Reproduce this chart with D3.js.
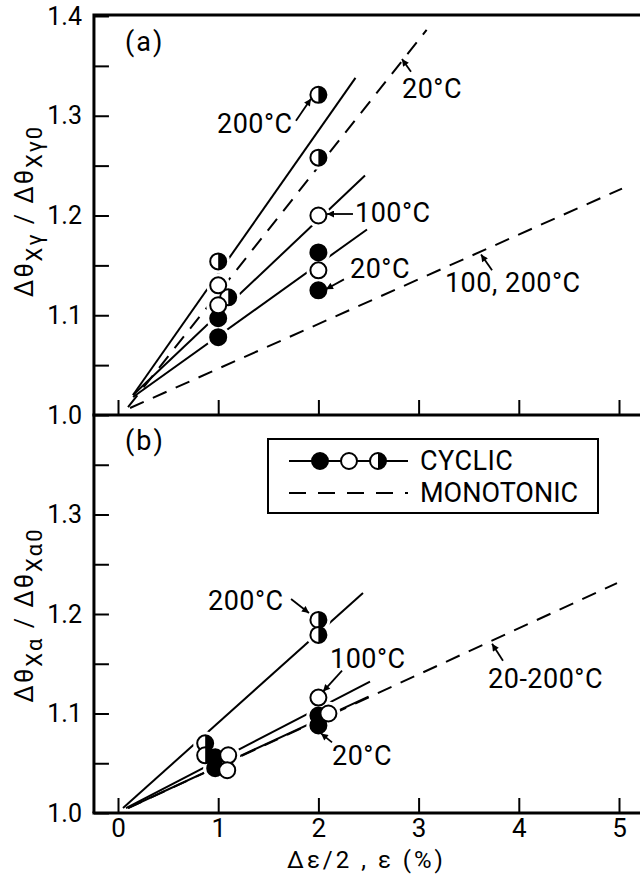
<!DOCTYPE html>
<html>
<head>
<meta charset="utf-8">
<script src="https://cdnjs.cloudflare.com/ajax/libs/d3/7.8.5/d3.min.js"></script>
<style>
  body { margin: 0; background: #fff; }
  svg { display: block; font-family: Roboto, "DejaVu Sans", sans-serif; }
</style>
</head>
<body>
<svg id="chart" width="640" height="877"></svg>
<script>
// ticks
const xTicks = [0, 1, 2, 3, 4, 5];
const yMajor = [1.0, 1.1, 1.2, 1.3, 1.4];
const yMinor = [1.05, 1.15, 1.25, 1.35];

// panel (a): [strain %, ratio]
const aFilled = [[1, 1.097], [1, 1.078], [2, 1.163], [2, 1.125]]; // 20°C
const aOpen = [[1, 1.130], [1, 1.110], [2, 1.200], [2, 1.145]];   // 100°C
const aHalf = [[1, 1.154], [1.1, 1.118], [2, 1.321], [2, 1.258]]; // 200°C
const aCyclic = [
  [[0.15, 1.020], [2.37, 1.338]],   // 200°C
  [[0.15, 1.020], [2.465, 1.240]],  // 100°C
  [[0.15, 1.018], [2.485, 1.186]]   // 20°C
];
const aMonotonic = [
  [[0.10, 1.008], [3.08, 1.386]],   // 20°C
  [[0.12, 1.007], [5.03, 1.227]]    // 100, 200°C
];

// panel (b)
const bFilled = [[0.97, 1.056], [0.97, 1.045], [2, 1.098], [2, 1.088]];
const bOpen = [[1.1, 1.058], [1.09, 1.043], [2, 1.116], [2.1, 1.100]];
const bHalf = [[0.87, 1.070], [0.87, 1.058], [2, 1.194], [2, 1.179]];
const bCyclic = [
  [[0.05, 1.005], [2.445, 1.221]],  // 200°C
  [[0.08, 1.005], [2.515, 1.132]],  // 100°C
  [[0.10, 1.005], [2.50, 1.117]]    // 20°C
];
const bMonotonic = [
  [[0.10, 1.005], [4.98, 1.231]]    // 20-200°C
];

// labels with leader arrows (data coordinates)
const aNotes = [
  { text: "200°C", at: [0.988, 1.283], from: [1.776, 1.295], to: [1.926, 1.317] },
  { text: "20°C", at: [2.834, 1.318], from: [2.924, 1.344], to: [2.834, 1.357] },
  { text: "100°C", at: [2.365, 1.193], from: [2.345, 1.2015], to: [2.086, 1.2015] },
  { text: "20°C", at: [2.315, 1.137], from: [2.255, 1.136], to: [2.076, 1.126] },
  { text: "100, 200°C", at: [3.263, 1.123], from: [3.733, 1.145], to: [3.623, 1.161] }
];
const bNotes = [
  { text: "200°C", at: [0.898, 1.204], from: [1.727, 1.215], to: [1.906, 1.201] },
  { text: "100°C", at: [2.116, 1.146], from: [2.236, 1.143], to: [2.046, 1.122] },
  { text: "20°C", at: [2.136, 1.048], from: [2.136, 1.071], to: [2.026, 1.080] },
  { text: "20-200°C", at: [3.693, 1.126], from: [3.842, 1.153], to: [3.733, 1.170] }
];

const svg = d3.select("#chart");
const x = d3.scaleLinear().domain([0, 5]).range([118, 619]);
const yA = d3.scaleLinear().domain([1, 1.4]).range([415, 16]);
const yB = d3.scaleLinear().domain([1, 1.4]).range([813, 415]);
const left = x(-0.24);
const right = 640;
const R = 8;

svg.append("defs")
  .append("marker")
  .attr("id", "arrow")
  .attr("viewBox", "0 0 10 10")
  .attr("refX", 10)
  .attr("refY", 5)
  .attr("markerWidth", 9)
  .attr("markerHeight", 7)
  .attr("markerUnits", "userSpaceOnUse")
  .attr("orient", "auto")
  .append("path")
  .attr("d", "M0,0L10,5L0,10Z")
  .attr("fill", "#000");

const isMajor = d => Math.abs(d * 10 - Math.round(d * 10)) < 1e-6;

function drawAxes(y, top) {
  // the 1.4 line of the lower panel is the 1.0 line of the upper one
  const ticks = yMajor.concat(yMinor).filter(d => top || d < 1.39);
  svg.append("g")
    .attr("transform", `translate(${left},0)`)
    .call(d3.axisLeft(y).tickValues(ticks).tickSize(-15).tickPadding(12)
      .tickFormat(d => (isMajor(d) ? d.toFixed(1) : "")))
    .call(g => g.select(".domain").remove())
    .call(g => g.selectAll("line").attr("stroke-width", 2))
    .call(g => g.selectAll("text").attr("font-size", 25).attr("font-family", "Roboto"));

  svg.append("g")
    .attr("transform", `translate(0,${y(1)})`)
    .call(d3.axisBottom(x).tickValues(xTicks).tickSize(-15).tickPadding(6)
      .tickFormat(top ? "" : d3.format("d")))
    .call(g => g.select(".domain").remove())
    .call(g => g.selectAll("line").attr("stroke-width", 2))
    .call(g => g.selectAll("text").attr("font-size", 26).attr("font-family", "Roboto"));
}

function halfMarker(g, cx, cy) {
  g.append("circle").attr("cx", cx).attr("cy", cy).attr("r", R).attr("fill", "#fff");
  g.append("path")
    .attr("d", `M${cx},${cy - R}A${R},${R} 0 0 1 ${cx},${cy + R}Z`)
    .attr("fill", "#000");
  g.append("circle").attr("cx", cx).attr("cy", cy).attr("r", R)
    .attr("fill", "none").attr("stroke", "#000").attr("stroke-width", 2);
}

function drawPanel(y, filled, open, half, cyclic, monotonic, notes, tag) {
  const line = d3.line().x(d => x(d[0])).y(d => y(d[1]));
  const g = svg.append("g");

  g.selectAll(".cyc").data(cyclic).join("path")
    .attr("d", line).attr("fill", "none")
    .attr("stroke", "#000").attr("stroke-width", 2);
  g.selectAll(".mono").data(monotonic).join("path")
    .attr("d", line).attr("fill", "none")
    .attr("stroke", "#000").attr("stroke-width", 2)
    .attr("stroke-dasharray", "15,10");

  // white halos give the gaps in the fit lines around the points
  g.append("g").selectAll("circle").data(filled.concat(open, half)).join("circle")
    .attr("cx", d => x(d[0])).attr("cy", d => y(d[1])).attr("r", R + 4)
    .attr("fill", "#fff");

  half.forEach(d => halfMarker(g, x(d[0]), y(d[1])));
  g.append("g").selectAll("circle").data(filled).join("circle")
    .attr("cx", d => x(d[0])).attr("cy", d => y(d[1])).attr("r", R)
    .attr("fill", "#000").attr("stroke", "#000").attr("stroke-width", 2);
  g.append("g").selectAll("circle").data(open).join("circle")
    .attr("cx", d => x(d[0])).attr("cy", d => y(d[1])).attr("r", R)
    .attr("fill", "#fff").attr("stroke", "#000").attr("stroke-width", 2);

  g.selectAll(".arrow").data(notes).join("line")
    .attr("x1", d => x(d.from[0])).attr("y1", d => y(d.from[1]))
    .attr("x2", d => x(d.to[0])).attr("y2", d => y(d.to[1]))
    .attr("stroke", "#000").attr("stroke-width", 1.8)
    .attr("marker-end", "url(#arrow)");
  g.selectAll(".note").data(notes).join("text")
    .attr("x", d => x(d.at[0])).attr("y", d => y(d.at[1]))
    .attr("font-size", 27)
    .attr("letter-spacing", 0.5)
    .text(d => d.text);

  g.append("text")
    .attr("x", x(0.07)).attr("y", y(1.365))
    .attr("font-size", 27).attr("letter-spacing", 2)
    .text(tag);
}

drawAxes(yA, true);
drawAxes(yB, false);
drawPanel(yA, aFilled, aOpen, aHalf, aCyclic, aMonotonic, aNotes, "(a)");
drawPanel(yB, bFilled, bOpen, bHalf, bCyclic, bMonotonic, bNotes, "(b)");

// frame
svg.append("path")
  .attr("d", `M${left},${yB(1)}V${yA(1.4) - 1}H${right}`)
  .attr("fill", "none").attr("stroke", "#000").attr("stroke-width", 3);
[yA(1), yB(1)].forEach(v => {
  svg.append("line").attr("x1", left - 1.5).attr("x2", right)
    .attr("y1", v).attr("y2", v)
    .attr("stroke", "#000").attr("stroke-width", 3);
});

// legend
const lg = svg.append("g");
lg.append("rect").attr("x", 268).attr("y", 439).attr("width", 330).attr("height", 74)
  .attr("fill", "#fff").attr("stroke", "#000").attr("stroke-width", 2);
lg.append("line").attr("x1", 289).attr("x2", 408).attr("y1", 461).attr("y2", 461)
  .attr("stroke", "#000").attr("stroke-width", 2);
lg.append("circle").attr("cx", 320).attr("cy", 461).attr("r", R).attr("fill", "#000")
  .attr("stroke", "#000").attr("stroke-width", 2);
lg.append("circle").attr("cx", 349).attr("cy", 461).attr("r", R).attr("fill", "#fff")
  .attr("stroke", "#000").attr("stroke-width", 2);
halfMarker(lg, 378, 461);
lg.append("line").attr("x1", 289).attr("x2", 408).attr("y1", 493).attr("y2", 493)
  .attr("stroke", "#000").attr("stroke-width", 2).attr("stroke-dasharray", "17,12");
lg.append("text").attr("x", 420).attr("y", 470).attr("font-size", 27)
  .attr("letter-spacing", 0.5).text("CYCLIC");
lg.append("text").attr("x", 420).attr("y", 502).attr("font-size", 27)
  .text("MONOTONIC");

// axis titles
function yTitle(cy, sub) {
  const t = svg.append("text")
    .attr("transform", `translate(33,${cy}) rotate(-90)`)
    .attr("text-anchor", "middle")
    .attr("font-size", 25)
    .attr("letter-spacing", 2);
  t.append("tspan").text("Δθ");
  t.append("tspan").attr("dy", 9).attr("font-size", 22).text(sub);
  t.append("tspan").attr("dy", -9).text(" / Δθ");
  t.append("tspan").attr("dy", 9).attr("font-size", 22).text(sub + "0");
}
yTitle(211, "Xγ");
yTitle(615, "Xα");

svg.append("text")
  .attr("x", 287).attr("y", 868)
  .attr("font-size", 24).attr("letter-spacing", 3)
  .text("Δε/2 , ε (%)");
</script>
</body>
</html>
